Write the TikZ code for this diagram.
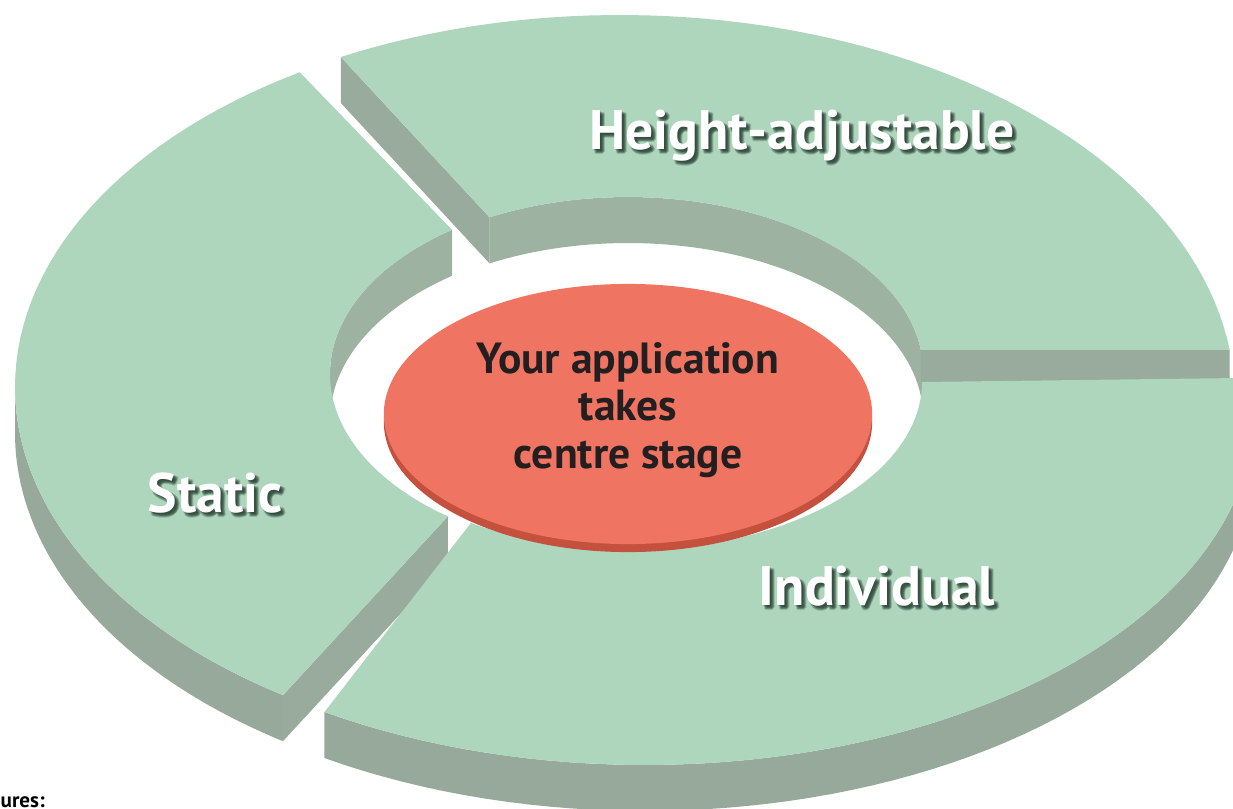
\documentclass[tikz,border=0pt]{standalone}
\usepackage{fontspec}
\setmainfont{PT Sans}
\usetikzlibrary{calc}
\definecolor{ringtop}{RGB}{174,214,188}
\definecolor{ringside}{RGB}{150,169,154}
\definecolor{ringcut}{RGB}{152,171,156}
\definecolor{ringinner}{RGB}{157,178,161}
\definecolor{disctop}{RGB}{240,116,98}
\definecolor{discside}{RGB}{196,80,62}
\definecolor{textdark}{RGB}{35,31,32}
\definecolor{shadowgreen}{RGB}{34,58,46}
\tikzset{
  topface/.style   = {fill=ringtop},
  sideface/.style  = {fill=ringside},
  cutface/.style   = {fill=ringcut},
  innerface/.style = {fill=ringinner},
  ringlabel/.style = {font=\bfseries\fontsize{15.8}{18}\selectfont, text=white, inner sep=0pt, anchor=base},
  labelshadow/.style = {ringlabel, text=shadowgreen, opacity=0.22},
  centretext/.style = {font=\bfseries\fontsize{12.4}{13.4}\selectfont, text=textdark, align=center, inner sep=0pt},
}
% elliptical arc: cx, cy, rx, ry, from, to, drop
\newcommand{\earc}[7]{plot[domain=#5:#6,samples=60] ({#1+#3*cos(\x)},{#2+#7-#4*sin(\x)})}
% same, joined to the path so far
\newcommand{\tearc}[7]{-- plot[domain=#5:#6,samples=60] ({#1+#3*cos(\x)},{#2+#7-#4*sin(\x)})}
% white label with a soft dark shadow
\newcommand{\shadowlabel}[3]{%
  \foreach \dx/\dy in {1/1,2/2,3/3,4/4,2/4,4/2,3/5,5/3} {\node[labelshadow] at ($(#2)+(\dx,\dy)$) {#3};}
  \node[ringlabel] (#1) at (#2) {#3};}

\begin{document}
\begin{tikzpicture}[x=0.01cm, y=-0.01cm]
  \useasboundingbox[fill=white] (0,0) rectangle (1233,809);

  % corners of the three slabs
  \coordinate (ha-o1) at ({620+615*cos(7.5)},{400-385*sin(7.5)});
  \coordinate (ha-i1) at ({628+295*cos(7)},{371-174*sin(7)});
  \coordinate (ha-o2) at ({620+615*cos(117)},{400-385*sin(117)});
  \coordinate (ha-i2) at ({628+295*cos(118)},{371-174*sin(118)});
  \coordinate (st-o2) at ({615+600*cos(236.4)},{387-370*sin(236.4)});
  \coordinate (st-i2) at ({625+295*cos(233.1)},{374-178*sin(233.1)});

  % Height-adjustable slab
  \fill[innerface] \earc{628}{371}{295}{174}{7}{118}{0} \tearc{628}{371}{295}{174}{118}{7}{46} -- cycle;
  \fill[cutface] (ha-o2) -- (ha-i2) -- ($(ha-i2)+(0,46)$) -- ($(ha-o2)+(0,46)$) -- cycle;
  \fill[cutface] (ha-o1) -- (ha-i1) -- ($(ha-i1)+(0,46)$) -- ($(ha-o1)+(0,46)$) -- cycle;
  \fill[topface] \earc{620}{400}{615}{385}{7.5}{117}{0} \tearc{628}{371}{295}{174}{118}{7}{0} -- cycle;

  % Static slab
  \fill[innerface] \earc{625}{374}{295}{178}{125.9}{180}{0} \tearc{625}{374}{295}{178}{180}{125.9}{46} -- cycle;
  \fill[sideface] \earc{615}{387}{600}{370}{180}{236.4}{0} \tearc{615}{387}{600}{370}{236.4}{180}{46} -- cycle;
  \fill[cutface] (st-o2) -- (st-i2) -- ($(st-i2)+(0,46)$) -- ($(st-o2)+(0,46)$) -- cycle;
  \fill[topface] \earc{615}{387}{600}{370}{121.7}{236.4}{0} \tearc{625}{374}{295}{178}{233.1}{125.9}{0} -- cycle;

  % Individual slab
  \fill[sideface] \earc{645}{410}{610}{355}{238.3}{360}{0} \tearc{645}{410}{610}{355}{360}{238.3}{46} -- cycle;
  \fill[topface] \earc{645}{410}{610}{355}{238.3}{365.2}{0} \tearc{630}{382}{292}{168}{360}{237}{0} -- cycle;

  % centre disc
  \fill[discside] (628,422) ellipse [x radius=2.44cm, y radius=1.30cm];
  \fill[disctop] (628,414) ellipse [x radius=2.44cm, y radius=1.30cm];
  \node[centretext] (centre) at (628,410) {Your application\\takes\\centre stage};

  % labels
  \shadowlabel{height}{802,149}{Height-adjustable}
  \shadowlabel{static}{215,512}{Static}
  \shadowlabel{indiv}{877,605}{Individual}

  \node[font=\bfseries\fontsize{6}{7}\selectfont, anchor=base west, inner sep=0pt] (features) at (0,807) {ures:};
\end{tikzpicture}
\end{document}
